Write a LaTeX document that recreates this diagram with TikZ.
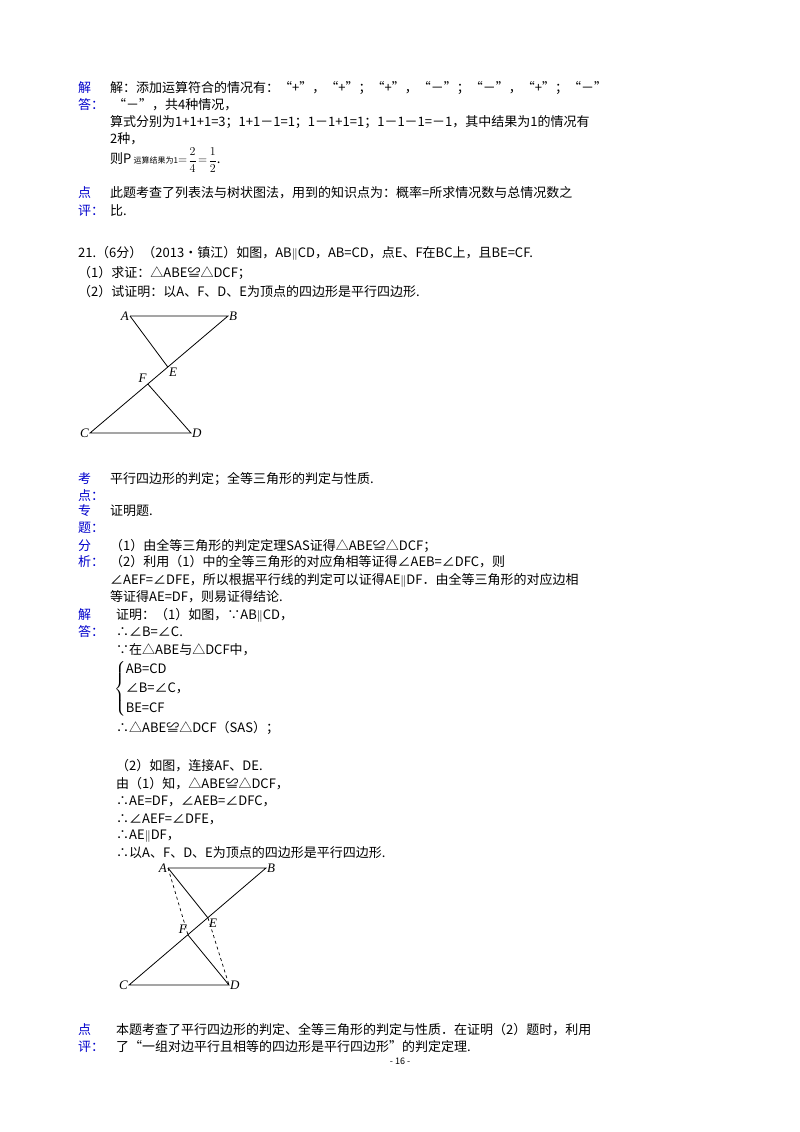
\documentclass[tikz,border=0pt]{standalone}
\usepackage{fontspec}
\setmainfont{Noto Sans CJK SC}
\newfontfamily\lblfont{Liberation Serif}
\usepackage{amssymb}
\begin{document}
\begin{tikzpicture}[x=1pt,y=-1pt,
  t/.style={anchor=west,inner sep=0pt,font=\fontsize{13}{15}\selectfont},
  lb/.style={t,text=blue!80!black},
  ln/.style={line width=0.8pt},
  dl/.style={line width=0.7pt,dashed},
  pl/.style={inner sep=1pt,font=\fontsize{13}{14}\selectfont\lblfont\itshape}]
\useasboundingbox[fill=white] (0,0) rectangle (800,1132);
% top block
\node[lb] (l1) at (78,88) {解};
\node[lb] (l2) at (78,105) {答：};
\node[t] (a1) at (110,88) {解：添加运算符合的情况有：“+”，“+”；“+”，“－”；“－”，“+”；“－”};
\node[t] (a2) at (113,105) {“－”，共4种情况，};
\node[t] (a3) at (110,122) {算式分别为1+1+1=3；1+1－1=1；1－1+1=1；1－1－1=－1，其中结果为1的情况有};
\node[t] (a4) at (110,139) {2种，};
\node[t] (a5) at (110,160) {则P\,{\fontsize{8}{9}\selectfont 运算结果为1}$=\!\displaystyle\frac{2}{4}\!=\!\frac{1}{2}$.};
\node[lb] (l3) at (78,193) {点};
\node[lb] (l4) at (78,211) {评：};
\node[t] (a6) at (110,193) {此题考查了列表法与树状图法，用到的知识点为：概率=所求情况数与总情况数之};
\node[t] (a7) at (110,211) {比.};
% problem
\node[t] (p1) at (78,253) {21.（6分）（2013•镇江）如图，AB$\parallel$CD，AB=CD，点E、F在BC上，且BE=CF.};
\node[t] (p2) at (78,273) {（1）求证：△ABE≌△DCF；};
\node[t] (p3) at (78,292) {（2）试证明：以A、F、D、E为顶点的四边形是平行四边形.};
% figure 1
\coordinate (A) at (130,316); \coordinate (B) at (228,316);
\coordinate (C) at (90,433); \coordinate (D) at (191,433);
\coordinate (E) at (167.8,367); \coordinate (F) at (147.8,384);
\draw[ln] (A) -- (B) -- (C) -- (D) -- (F);
\draw[ln] (A) -- (E);
\node[pl,anchor=east] (nA) at (A) {A};
\node[pl,anchor=west] (nB) at (B) {B};
\node[pl,anchor=east] (nC) at (C) {C};
\node[pl,anchor=west] (nD) at (D) {D};
\node[pl,anchor=north west] (nE) at (E) {E};
\node[pl,anchor=south east] (nF) at (F) {F};
% analysis
\node[lb] (k1) at (78,479) {考};
\node[lb] (k2) at (78,496) {点：};
\node[t] (b1) at (110,479) {平行四边形的判定；全等三角形的判定与性质.};
\node[lb] (k3) at (78,511) {专};
\node[lb] (k4) at (78,528) {题：};
\node[t] (b2) at (110,511) {证明题.};
\node[lb] (k5) at (78,546) {分};
\node[lb] (k6) at (78,562) {析：};
\node[t] (b3) at (110,546) {（1）由全等三角形的判定定理SAS证得△ABE≌△DCF；};
\node[t] (b4) at (110,562) {（2）利用（1）中的全等三角形的对应角相等证得∠AEB=∠DFC，则};
\node[t] (b5) at (110,580) {∠AEF=∠DFE，所以根据平行线的判定可以证得AE$\parallel$DF．由全等三角形的对应边相};
\node[t] (b6) at (110,597) {等证得AE=DF，则易证得结论.};
\node[lb] (k7) at (78,615) {解};
\node[lb] (k8) at (78,632) {答：};
\node[t] (c1) at (116,615) {证明：（1）如图，∵AB$\parallel$CD，};
\node[t] (c2) at (116,632) {∴∠B=∠C.};
\node[t] (c3) at (116,650) {∵在△ABE与△DCF中，};
\node[t] (c4) at (114,689) {$\left\{\renewcommand{\arraystretch}{1.3}\begin{array}{@{}l}\mbox{AB=CD}\\ \mbox{∠B=∠C，}\\ \mbox{BE=CF}\end{array}\right.$};
\node[t] (c5) at (116,728) {∴△ABE≌△DCF（SAS）；};
\node[t] (c6) at (116,766) {（2）如图，连接AF、DE.};
\node[t] (c7) at (116,784) {由（1）知，△ABE≌△DCF，};
\node[t] (c8) at (116,801) {∴AE=DF，∠AEB=∠DFC，};
\node[t] (c9) at (116,819) {∴∠AEF=∠DFE，};
\node[t] (c10) at (116,836) {∴AE$\parallel$DF，};
\node[t] (c11) at (116,853) {∴以A、F、D、E为顶点的四边形是平行四边形.};
% figure 2
\coordinate (A2) at (168,868); \coordinate (B2) at (266,868);
\coordinate (C2) at (129,985); \coordinate (D2) at (229,985);
\coordinate (E2) at (208,918); \coordinate (F2) at (188,935);
\draw[ln] (A2) -- (B2) -- (C2) -- (D2) -- (F2);
\draw[ln] (A2) -- (E2);
\draw[dl] (A2) -- (F2);
\draw[dl] (E2) -- (D2);
\node[pl,anchor=east] (nA2) at (A2) {A};
\node[pl,anchor=west] (nB2) at (B2) {B};
\node[pl,anchor=east] (nC2) at (C2) {C};
\node[pl,anchor=west] (nD2) at (D2) {D};
\node[pl,anchor=north west] (nE2) at (E2) {E};
\node[pl,anchor=south east] (nF2) at (F2) {F};
% comment
\node[lb] (k9) at (78,1030) {点};
\node[lb] (k10) at (78,1047) {评：};
\node[t] (d1) at (116,1030) {本题考查了平行四边形的判定、全等三角形的判定与性质．在证明（2）题时，利用};
\node[t] (d2) at (116,1047) {了“一组对边平行且相等的四边形是平行四边形”的判定定理.};
\node[t,anchor=center,font=\fontsize{9}{10}\selectfont] (pg) at (400,1061) {- 16 -};
\end{tikzpicture}
\end{document}
